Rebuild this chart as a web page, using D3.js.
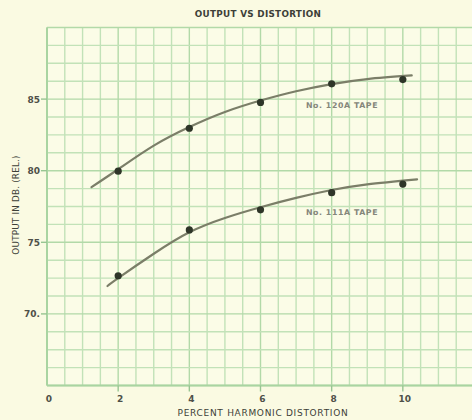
<!DOCTYPE html>
<html><head><meta charset="utf-8">
<script src="https://cdn.jsdelivr.net/npm/d3@7"></script>
<style>
html,body{margin:0;padding:0;background:#fafae2;}
svg{display:block;}
text{font-family:"DejaVu Sans",sans-serif;}
</style></head>
<body><svg id="c" width="472" height="420"></svg>
<script>
// Data
const xTicks = [0, 2, 4, 6, 8, 10];
const yTicks = [70, 75, 80, 85];
const yTickLabels = ["70.", "75", "80", "85"];

const distortion = [2, 4, 6, 8, 10];
const tape120A = [80.0, 83.0, 84.8, 86.1, 86.4];
const tape111A = [72.7, 75.9, 77.3, 78.5, 79.1];

// Hand-drawn fitted curves
const curve120Ax = [1.25, 2, 3, 4, 5, 6, 7, 8, 9, 10.25];
const curve120Ay = [78.85, 80.1, 81.75, 83.05, 84.1, 84.9, 85.55, 86.05, 86.4, 86.65];
const curve111Ax = [1.7, 2, 3, 4, 5, 6, 7, 8, 9, 10.4];
const curve111Ay = [71.95, 72.5, 74.2, 75.7, 76.7, 77.45, 78.1, 78.65, 79.05, 79.4];

const seriesLabels = ["No. 120A TAPE", "No. 111A TAPE"];

const svg = d3.select("#c");
const x = d3.scaleLinear().domain([0, 12]).range([47, 474]);
const y = d3.scaleLinear().domain([65, 90]).range([385.5, 27.5]);

const gridCol = "#c2e2b8", majorCol = "#b2d9a8";

svg.append("rect").attr("x", x(0)).attr("y", y(90)).attr("width", x(12) - x(0)).attr("height", y(65) - y(90))
  .attr("fill", "#fbfce7");

// grid
const xGrid = d3.range(0, 12.01, 0.5);
const yGrid = d3.range(65, 90.01, 1.25);
svg.append("g").selectAll("line").data(xGrid).join("line")
  .attr("x1", d => x(d)).attr("x2", d => x(d)).attr("y1", y(90)).attr("y2", y(65))
  .attr("stroke", d => (d % 2 === 0 ? majorCol : gridCol)).attr("stroke-width", 1.4);
svg.append("g").selectAll("line").data(yGrid).join("line")
  .attr("x1", x(0)).attr("x2", x(12)).attr("y1", d => y(d)).attr("y2", d => y(d))
  .attr("stroke", d => (d % 5 === 0 ? majorCol : gridCol)).attr("stroke-width", 1.4);

// frame
svg.append("line").attr("x1", x(0)).attr("x2", x(0)).attr("y1", y(90)).attr("y2", y(65)).attr("stroke", "#a9d4a1").attr("stroke-width", 2);
svg.append("line").attr("x1", x(0)).attr("x2", x(12)).attr("y1", y(65)).attr("y2", y(65)).attr("stroke", "#a9d4a1").attr("stroke-width", 2);

// tick marks
svg.append("g").selectAll("line").data(yTicks).join("line")
  .attr("x1", x(0) - 6).attr("x2", x(0)).attr("y1", d => y(d)).attr("y2", d => y(d))
  .attr("stroke", "#98c592").attr("stroke-width", 1.4);
svg.append("g").selectAll("line").data(xTicks.filter(d => d > 0)).join("line")
  .attr("x1", d => x(d)).attr("x2", d => x(d)).attr("y1", y(65)).attr("y2", y(65) + 6)
  .attr("stroke", "#98c592").attr("stroke-width", 1.4);

// tick labels
svg.append("g").selectAll("text").data(yTicks).join("text")
  .attr("x", 40).attr("y", d => y(d) + 3.5).attr("text-anchor", "end")
  .attr("font-size", 9).attr("font-weight", "bold").attr("fill", "#4e5048")
  .text((d, i) => yTickLabels[i]);
svg.append("g").selectAll("text").data(xTicks).join("text")
  .attr("x", d => x(d) + 2).attr("y", 402).attr("text-anchor", "middle")
  .attr("font-size", 9).attr("font-weight", "bold").attr("fill", "#4e5048")
  .text(d => d);

// titles
svg.append("text").attr("x", 258).attr("y", 16.5).attr("text-anchor", "middle")
  .attr("font-size", 8.8).attr("font-weight", "bold").attr("fill", "#3d3f38").attr("letter-spacing", 0.3)
  .text("OUTPUT VS DISTORTION");
svg.append("text").attr("x", 263).attr("y", 416).attr("text-anchor", "middle")
  .attr("font-size", 9).attr("fill", "#3d3f38").attr("letter-spacing", 0.7).text("PERCENT HARMONIC DISTORTION");
svg.append("text").attr("transform", "translate(19,205) rotate(-90)").attr("text-anchor", "middle")
  .attr("font-size", 8.8).attr("fill", "#3d3f38").attr("letter-spacing", 0.2).text("OUTPUT IN DB. (REL.)");

// curves
const line = d3.line().x(d => x(d[0])).y(d => y(d[1])).curve(d3.curveNatural);
const c1 = curve120Ax.map((v, i) => [v, curve120Ay[i]]);
const c2 = curve111Ax.map((v, i) => [v, curve111Ay[i]]);
[c1, c2].forEach(c => {
  svg.append("path").datum(c).attr("d", line).attr("fill", "none")
    .attr("stroke", "#7b7e68").attr("stroke-width", 2.2).attr("stroke-linecap", "round");
});

// points
[tape120A, tape111A].forEach(s => {
  svg.append("g").selectAll("circle").data(distortion).join("circle")
    .attr("cx", d => x(d)).attr("cy", (d, i) => y(s[i]) + 0.5).attr("r", 3.6)
    .attr("fill", "#2e3528");
});

// series labels
svg.append("text").attr("x", 342).attr("y", 108).attr("text-anchor", "middle")
  .attr("font-size", 7.8).attr("font-weight", "bold").attr("fill", "#84867a").attr("letter-spacing", 0.6).text(seriesLabels[0]);
svg.append("text").attr("x", 342).attr("y", 215).attr("text-anchor", "middle")
  .attr("font-size", 7.8).attr("font-weight", "bold").attr("fill", "#84867a").attr("letter-spacing", 0.6).text(seriesLabels[1]);
</script></body></html>
